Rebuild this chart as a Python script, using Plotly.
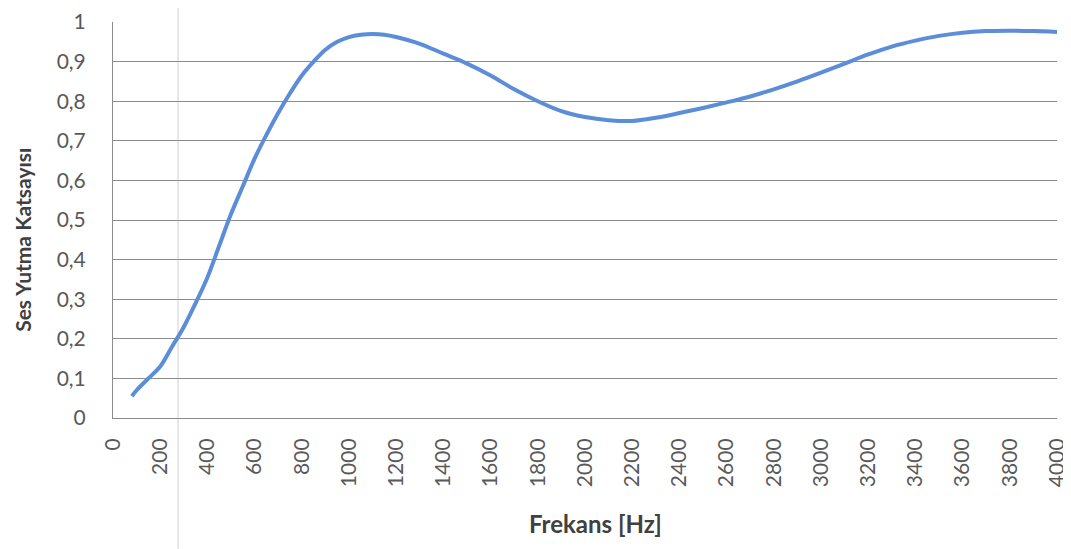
import plotly.graph_objects as go

freq = [80, 100, 150, 200, 250, 300, 350, 400, 450, 500, 550, 600, 650, 700, 750, 800, 850, 900, 950,
        1000, 1050, 1100, 1150, 1200, 1300, 1400, 1500, 1600, 1700, 1800, 1900, 2000, 2100, 2200,
        2300, 2400, 2500, 2600, 2700, 2800, 2900, 3000, 3100, 3200, 3300, 3400, 3500, 3600, 3700,
        3800, 3900, 4000]
alpha = [0.055, 0.07, 0.10, 0.13, 0.18, 0.23, 0.29, 0.355, 0.435, 0.515, 0.585, 0.655, 0.715, 0.77,
         0.82, 0.865, 0.90, 0.93, 0.95, 0.962, 0.968, 0.97, 0.968, 0.962, 0.945, 0.92, 0.895,
         0.865, 0.83, 0.80, 0.775, 0.76, 0.752, 0.75, 0.758, 0.77, 0.783, 0.797, 0.812, 0.83,
         0.85, 0.872, 0.895, 0.918, 0.938, 0.953, 0.965, 0.973, 0.977, 0.978, 0.977, 0.975]

x_ticks = list(range(0, 4001, 200))
y_ticks = [i / 10 for i in range(11)]

FONT = "Lato"
TICK = dict(size=21, family=FONT, color="#595959")
TITLE = dict(family=FONT, color="#404040")

fig = go.Figure()
fig.add_trace(go.Scatter(x=freq, y=alpha, mode="lines", line=dict(color="#5B8DD9", width=4, shape="spline"),
                         showlegend=False))

# page body has an 8px margin, so the figure is sized/offset to compensate
fig.update_layout(
    width=1060, height=541,
    margin=dict(l=105, r=11, t=14, b=131),
    paper_bgcolor="white", plot_bgcolor="white",
    separators=",.",
    font=dict(family=FONT, color="#595959", size=18),
    xaxis=dict(range=[0, 4000], tickvals=x_ticks, tickangle=-90, showgrid=False, automargin=False,
               showline=True, linecolor="#8c8c8c", linewidth=1, ticklabeloverflow="allow",
               ticks="outside", ticklen=11, tickcolor="rgba(0,0,0,0)",
               tickfont=TICK),
    yaxis=dict(range=[0, 1], tickvals=y_ticks, showgrid=True, gridcolor="#8c8c8c", gridwidth=1,
               automargin=False, showline=True, linecolor="#8c8c8c", linewidth=1, zeroline=False,
               ticklabeloverflow="allow",
               ticks="outside", ticklen=22, tickcolor="rgba(0,0,0,0)",
               tickfont=TICK),
    annotations=[
        dict(text="<b>Frekans [Hz]</b>", xref="paper", yref="paper", x=0.5106, y=-0.267,
             showarrow=False, font=dict(size=24, **TITLE), xanchor="center", yanchor="middle"),
        dict(text="<b>Ses Yutma Katsayısı</b>", xref="paper", yref="paper", x=-0.0953, y=0.45,
             textangle=-90, showarrow=False, font=dict(size=21, **TITLE), xanchor="center", yanchor="middle"),
    ],
    shapes=[dict(type="line", xref="paper", yref="paper", x0=0.0689, x1=0.0689, y0=1.06, y1=-0.33,
                 line=dict(color="#d0d0d0", width=1), layer="below")],
)

fig.write_html("out.html")
